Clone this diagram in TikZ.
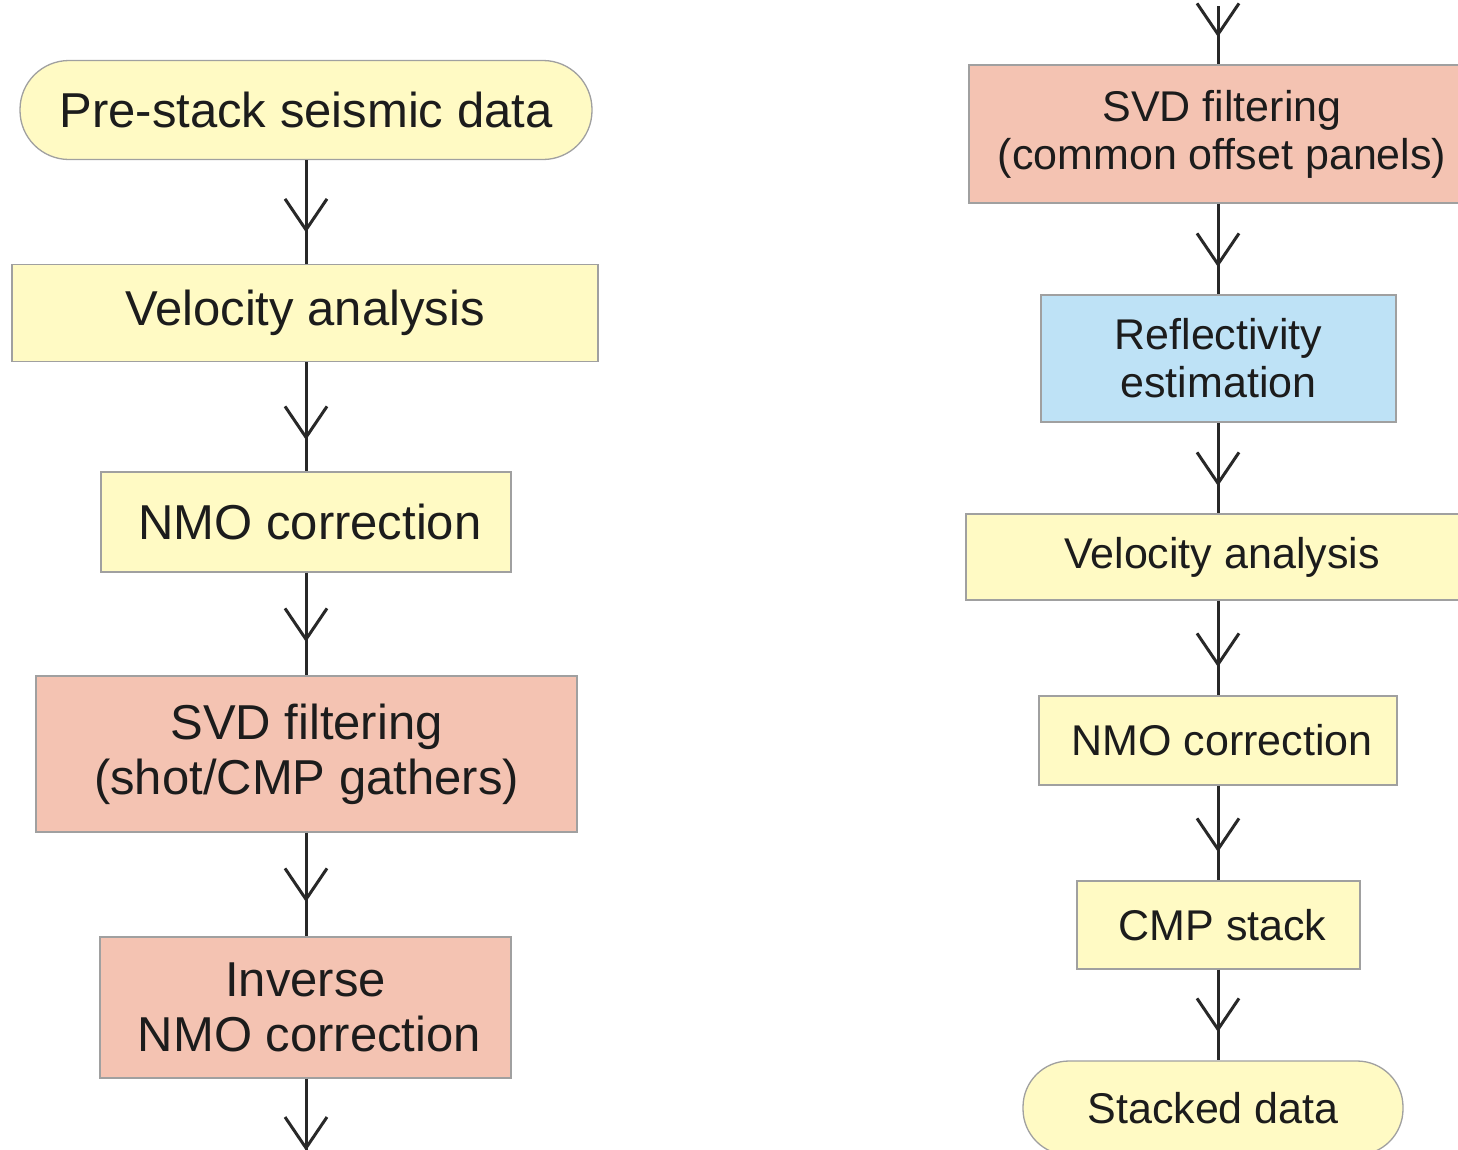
\documentclass[tikz,border=0pt]{standalone}
\usepackage{fontspec}
\setmainfont{Liberation Sans}
\usetikzlibrary{decorations.markings}
\definecolor{boxyellow}{RGB}{255,250,196}
\definecolor{boxsalmon}{RGB}{244,195,178}
\definecolor{boxblue}{RGB}{190,226,246}
\definecolor{boxborder}{RGB}{160,160,160}
\definecolor{inkline}{RGB}{40,40,40}
\definecolor{inktext}{RGB}{28,28,28}
\tikzset{
  stepbox/.style={draw=boxborder, line width=1.3pt, inner sep=0pt, anchor=center, align=center, text=inktext},
  leftfont/.style={font=\fontsize{49}{55}\selectfont},
  rightfont/.style={font=\fontsize{43}{48}\selectfont},
  yel/.style={stepbox, fill=boxyellow},
  sal/.style={stepbox, fill=boxsalmon},
  blu/.style={stepbox, fill=boxblue},
  flow/.style={draw=inkline, line width=3pt,
    postaction={decorate},
    decoration={markings, mark=at position -#1 with {\draw[inkline, line width=3pt, line join=miter] (-31pt,21pt) -- (0pt,0pt) -- (-31pt,-21pt);}}},
  flow/.default=34pt
}
\begin{document}
\begin{tikzpicture}[x=1pt,y=-1pt]
\useasboundingbox (0,0) rectangle (1458,1149);
\clip (0,0) rectangle (1458,1149);
\fill[white] (0,0) rectangle (1458,1149);
\coordinate (lineL) at (306,0);
\coordinate (lineR) at (1218,0);
\coordinate (topR) at (1218,6);
\coordinate (botL) at (306,1160);
% left column
\node[yel, leftfont, minimum width=572pt, minimum height=99pt, rounded corners=49pt] (pre) at (306,110) {Pre-stack seismic data};
\node[yel, leftfont, minimum width=586pt, minimum height=97pt] (velL) at (305,313) {Velocity analysis};
\node[yel, leftfont, minimum width=410pt, minimum height=100pt] (nmoL) at (306,522) {\hspace*{8pt}NMO correction};
\node[sal, leftfont, minimum width=541pt, minimum height=156pt] (svdL) at (306.5,754) {SVD filtering\\(shot/CMP gathers)};
\node[sal, leftfont, minimum width=411pt, minimum height=141pt] (inv) at (305.5,1007.5) {Inverse\\\hspace*{8pt}NMO correction};
% right column
\node[sal, rightfont, minimum width=506pt, minimum height=138pt] (svdR) at (1222,134) {SVD filtering\\(common offset panels)};
\node[blu, rightfont, minimum width=355pt, minimum height=127pt] (refl) at (1218.5,358.5) {Reflectivity\\estimation};
\node[yel, rightfont, minimum width=512pt, minimum height=86pt] (velR) at (1222,557) {Velocity analysis};
\node[yel, rightfont, minimum width=358pt, minimum height=89pt] (nmoR) at (1218,740.5) {\hspace*{8pt}NMO correction};
\node[yel, rightfont, minimum width=283pt, minimum height=88pt] (cmp) at (1218.5,925) {\hspace*{8pt}CMP stack};
\node[yel, rightfont, minimum width=380pt, minimum height=94pt, rounded corners=46pt] (stk) at (1213,1108) {Stacked data};
% connectors left
\draw[flow] (pre.south -| lineL) -- (velL.north -| lineL);
\draw[flow] (velL.south -| lineL) -- (nmoL.north -| lineL);
\draw[flow=36pt] (nmoL.south -| lineL) -- (svdL.north -| lineL);
\draw[flow=37pt] (svdL.south -| lineL) -- (inv.north -| lineL);
\draw[flow=12pt] (inv.south -| lineL) -- (botL);
% connectors right
\draw[flow=30pt] (topR) -- (svdR.north -| lineR);
\draw[flow=30pt] (svdR.south -| lineR) -- (refl.north -| lineR);
\draw[flow=30pt] (refl.south -| lineR) -- (velR.north -| lineR);
\draw[flow=31pt] (velR.south -| lineR) -- (nmoR.north -| lineR);
\draw[flow=31pt] (nmoR.south -| lineR) -- (cmp.north -| lineR);
\draw[flow=31pt] (cmp.south -| lineR) -- (stk.north -| lineR);
\end{tikzpicture}
\end{document}
